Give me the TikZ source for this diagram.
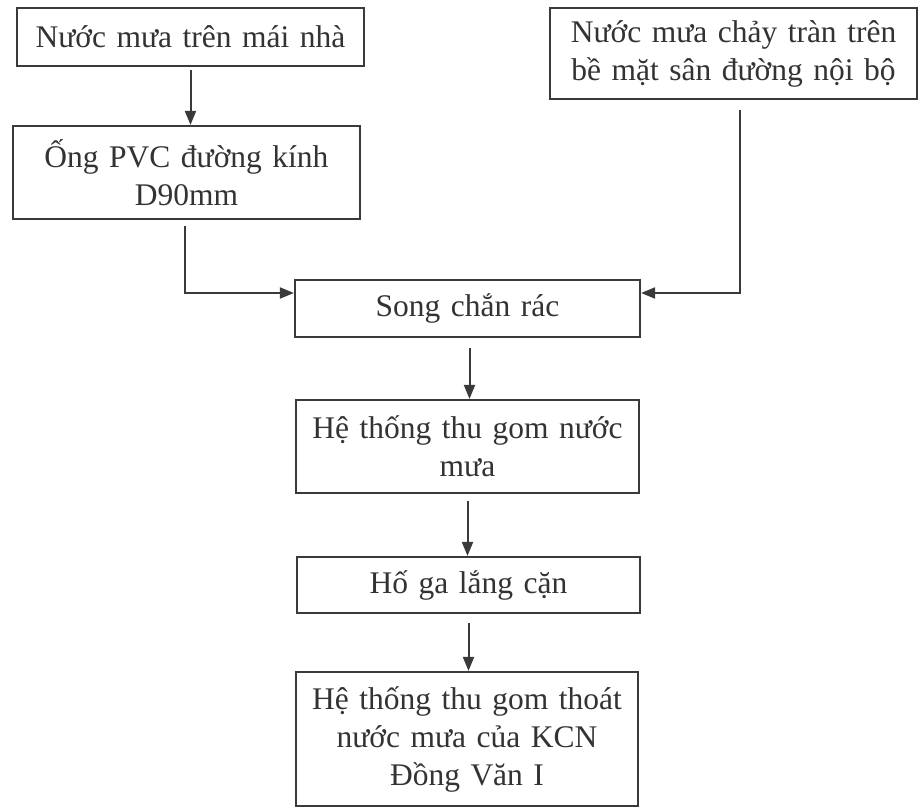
\documentclass[tikz,border=0pt]{standalone}
\usepackage{fontspec}
\setmainfont{Liberation Serif}
\usetikzlibrary{arrows.meta}
\definecolor{ink}{HTML}{3A3A3A}
\definecolor{txt}{HTML}{333333}
\tikzset{
  box/.style={draw=ink, line width=2.2pt, inner xsep=0pt, inner ysep=0pt, align=center,
    text=txt, font=\fontsize{31.5}{38}\selectfont, anchor=center},
  conn/.style={draw=ink, line width=2pt, -{Triangle[length=14pt,width=11pt]}}
}
\begin{document}
\begin{tikzpicture}[x=1pt,y=-1pt]
\useasboundingbox[fill=white] (0,0) rectangle (919,808);
\node[box, minimum width=347pt, text width=347pt, minimum height=58pt] (b1) at (190.5,37) {Nước mưa trên mái nhà};
\node[box, minimum width=367pt, text width=367pt, minimum height=91pt] (b2) at (733.5,53.5) {Nước mưa chảy tràn trên\\bề mặt sân đường nội bộ};
\node[box, minimum width=347pt, text width=347pt, minimum height=93pt] (b3) at (186.5,172.5) {Ống PVC đường kính\\D90mm};
\node[box, minimum width=345pt, text width=345pt, minimum height=57pt] (song) at (467.5,308.5) {Song chắn rác};
\node[box, minimum width=343pt, text width=343pt, minimum height=93pt] (b5) at (467.5,446.5) {Hệ thống thu gom nước\\mưa};
\node[box, minimum width=343pt, text width=343pt, minimum height=56pt] (b6) at (468.5,585) {Hố ga lắng cặn};
\node[box, minimum width=342pt, text width=342pt, minimum height=134pt] (b7) at (467,739) {Hệ thống thu gom thoát\\nước mưa của KCN\\Đồng Văn I};
\draw[conn, shorten <=3pt] (b1.south) -- (b1.south |- b3.north);
\draw[conn, shorten <=6pt] ([xshift=-1.5pt]b3.south) |- ([yshift=15.5pt]song.west);
\draw[conn, shorten <=10pt] ([xshift=6.5pt]b2.south) |- ([yshift=15.5pt]song.east);
\draw[conn, shorten <=10pt] ([xshift=2pt]song.south) -- ([xshift=2pt]b5.north);
\draw[conn, shorten <=7pt] (b5.south) -- (b5.south |- b6.north);
\draw[conn, shorten <=9pt] (b6.south) -- (b6.south |- b7.north);
\end{tikzpicture}
\end{document}
